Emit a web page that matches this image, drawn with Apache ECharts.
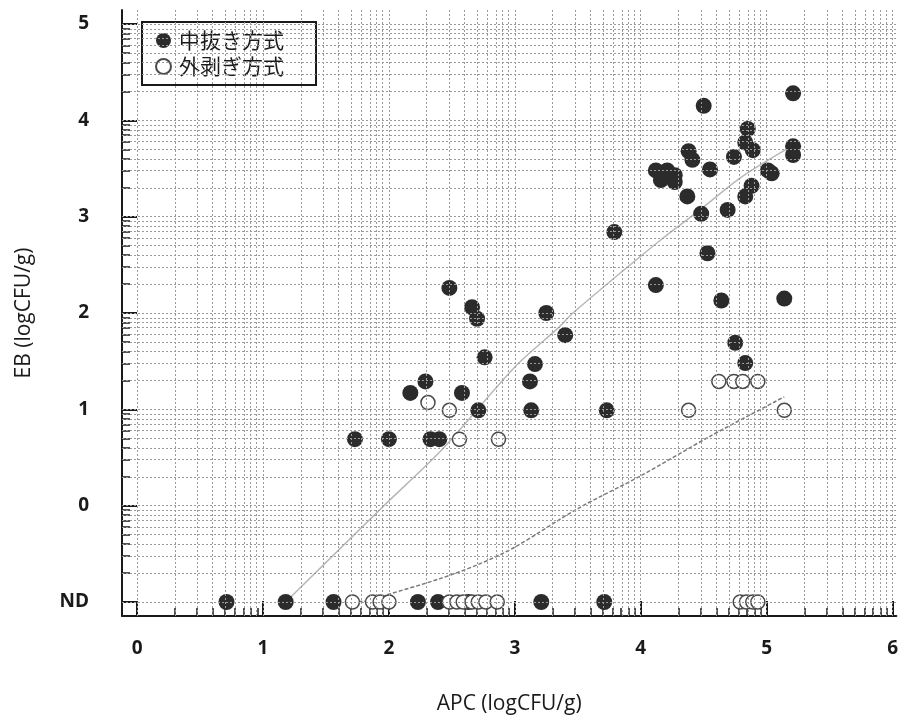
<!DOCTYPE html>
<html>
<head>
<meta charset="utf-8">
<script src="https://cdn.jsdelivr.net/npm/echarts@6/dist/echarts.min.js"></script>
<style>
  html, body { margin: 0; padding: 0; background: #fff; }
  #chart { width: 901px; height: 720px; }
</style>
</head>
<body>
<div id="chart"></div>
<script>
// Tick positions and their labels
const xTicks = [0, 1, 2, 3, 4, 5, 6];
const yTicks = [-1, 0, 1, 2, 3, 4, 5];
const yTickLabels = ['ND', '0', '1', '2', '3', '4', '5'];

// Series names
const seriesNames = ['中抜き方式', '外剥ぎ方式'];

// 中抜き方式: [APC, EB] (EB = -1 means ND)
const nakanukiPoints = [
  [0.71, -1], [1.18, -1], [1.56, -1], [2.23, -1], [2.39, -1], [2.63, -1], [3.21, -1], [3.71, -1],
  [1.73, 0.69], [2.00, 0.69], [2.33, 0.69], [2.40, 0.69],
  [2.71, 0.99], [3.13, 0.99], [3.73, 0.99],
  [2.17, 1.17], [2.58, 1.17], [2.29, 1.29], [3.12, 1.29],
  [3.16, 1.47], [2.76, 1.54], [3.40, 1.77],
  [3.25, 2.00], [2.70, 1.94], [2.66, 2.06], [2.48, 2.26],
  [3.79, 2.84],
  [4.12, 2.29], [4.53, 2.62], [4.64, 2.13], [5.14, 2.15],
  [4.75, 1.69], [4.83, 1.48],
  [4.48, 3.03], [4.69, 3.07], [4.37, 3.21], [4.83, 3.21], [4.88, 3.32],
  [4.12, 3.48], [4.16, 3.38], [4.21, 3.48], [4.27, 3.43], [4.27, 3.36],
  [4.38, 3.68], [4.41, 3.59], [4.55, 3.49],
  [5.01, 3.48], [5.04, 3.45],
  [4.74, 3.62], [4.89, 3.69], [4.83, 3.77], [4.85, 3.91],
  [5.21, 3.73], [5.21, 3.64], [5.21, 4.28], [4.50, 4.15]
];

// 外剥ぎ方式: [APC, EB]
const sotomukiPoints = [
  [1.71, -1], [1.87, -1], [1.93, -1], [2.00, -1],
  [2.48, -1], [2.54, -1], [2.59, -1], [2.66, -1], [2.71, -1], [2.77, -1], [2.86, -1],
  [4.79, -1], [4.84, -1], [4.89, -1], [4.93, -1],
  [2.56, 0.69], [2.87, 0.69],
  [2.31, 1.07], [2.48, 0.99],
  [4.38, 0.99], [5.14, 0.99],
  [4.62, 1.29], [4.74, 1.29], [4.81, 1.29], [4.93, 1.29]
];

// Smoothed trend for each method
const nakanukiTrend = [
  [1.18, -1], [1.96, 0], [2.42, 0.58], [3.0, 1.44], [3.34, 1.84], [3.47, 2.01],
  [4.16, 2.76], [4.47, 3.07], [4.81, 3.42], [5.21, 3.74]
];
const sotomukiTrend = [
  [1.71, -1], [1.87, -0.98], [2.0, -0.92], [2.4, -0.76], [2.71, -0.61], [3.0, -0.43],
  [3.5, -0.03], [4.0, 0.31], [4.55, 0.72], [5.14, 1.13]
];

// Log-paper rulings: each unit split at log10(2..9)
function logRulings(from, to) {
  const out = [];
  for (let k = from; k < to; k++) {
    for (let m = 2; m <= 9; m++) out.push(k + Math.log10(m));
  }
  return out;
}
const xMinor = logRulings(0, 6);
const yMinor = logRulings(-1, 5);

const X_MIN = -0.12, X_MAX = 6.03;
const Y_MIN = -1.145, Y_MAX = 5.145;

const labelFont = { fontFamily: 'Open Sans', fontWeight: 'bold', fontSize: 19, color: '#1a1a1a' };
const nameFont = { fontFamily: 'Open Sans', fontSize: 21, color: '#1a1a1a' };

const chart = echarts.init(document.getElementById('chart'));
chart.setOption({
  animation: false,
  backgroundColor: '#fff',
  grid: { left: 122, right: 0, top: 10, bottom: 104 },
  legend: {
    data: seriesNames,
    orient: 'vertical',
    left: 142, top: 22,
    padding: [8, 32, 8, 13],
    itemGap: 5,
    itemWidth: 15, itemHeight: 15,
    borderColor: '#1a1a1a', borderWidth: 2,
    backgroundColor: '#fff',
    textStyle: { fontFamily: 'Noto Sans CJK JP', fontSize: 21, color: '#1a1a1a', padding: [0, 0, 0, 3] },
    selectedMode: false
  },
  xAxis: [
    {
      type: 'value', min: X_MIN, max: X_MAX, position: 'bottom',
      name: 'APC (logCFU/g)', nameLocation: 'middle', nameGap: 78, nameTextStyle: nameFont,
      axisLine: { show: true, onZero: false, lineStyle: { color: '#1a1a1a', width: 2 } },
      axisTick: { show: true, inside: true, length: 15, customValues: xTicks, lineStyle: { color: '#1a1a1a', width: 2 } },
      axisLabel: Object.assign({ customValues: xTicks, margin: 23 }, labelFont),
      splitLine: { show: false }
    },
    {
      type: 'value', min: X_MIN, max: X_MAX, position: 'bottom',
      axisLine: { show: false, onZero: false },
      axisTick: { show: true, inside: true, length: 8, customValues: xMinor, lineStyle: { color: '#1a1a1a', width: 1.5 } },
      axisLabel: { show: false },
      splitLine: { show: false }
    }
  ],
  yAxis: [
    {
      type: 'value', min: Y_MIN, max: Y_MAX, position: 'left',
      name: 'EB (logCFU/g)', nameLocation: 'middle', nameGap: 87, nameTextStyle: nameFont,
      axisLine: { show: true, onZero: false, lineStyle: { color: '#1a1a1a', width: 2 } },
      axisTick: { show: true, inside: true, length: 15, customValues: yTicks, lineStyle: { color: '#1a1a1a', width: 2 } },
      axisLabel: Object.assign({
        customValues: yTicks, margin: 33,
        formatter: v => yTickLabels[yTicks.indexOf(Math.round(v))]
      }, labelFont),
      splitLine: { show: false }
    },
    {
      type: 'value', min: Y_MIN, max: Y_MAX, position: 'left',
      axisLine: { show: false, onZero: false },
      axisTick: { show: true, inside: true, length: 8, customValues: yMinor, lineStyle: { color: '#1a1a1a', width: 1.5 } },
      axisLabel: { show: false },
      splitLine: { show: false }
    }
  ],
  series: [
    {
      // log-paper rulings behind everything
      type: 'scatter', data: [], silent: true, z: 0,
      markLine: {
        silent: true, symbol: ['none', 'none'], animation: false,
        label: { show: false },
        lineStyle: { color: '#9a9a9a', type: [2, 2], width: 1 },
        data: xTicks.concat(xMinor).map(v => ({ xAxis: v }))
          .concat(yTicks.concat(yMinor).map(v => ({ yAxis: v })))
      }
    },
    {
      type: 'line', data: nakanukiTrend, smooth: 0.3, showSymbol: false, silent: true, z: 1,
      lineStyle: { color: '#b8b8b8', width: 1.5 }
    },
    {
      type: 'line', data: sotomukiTrend, smooth: 0.3, showSymbol: false, silent: true, z: 1,
      lineStyle: { color: '#7a7a7a', width: 1.5, type: [4, 2] }
    },
    {
      name: seriesNames[0], type: 'scatter', data: nakanukiPoints, z: 3,
      symbol: 'circle', symbolSize: 16,
      itemStyle: { color: '#2b2b2b', opacity: 1 }
    },
    {
      name: seriesNames[1], type: 'scatter', data: sotomukiPoints, z: 4,
      symbol: 'circle', symbolSize: 14,
      itemStyle: { color: '#ffffff', borderColor: '#4a4a4a', borderWidth: 1.5, opacity: 1 }
    }
  ]
});
</script>
</body>
</html>
